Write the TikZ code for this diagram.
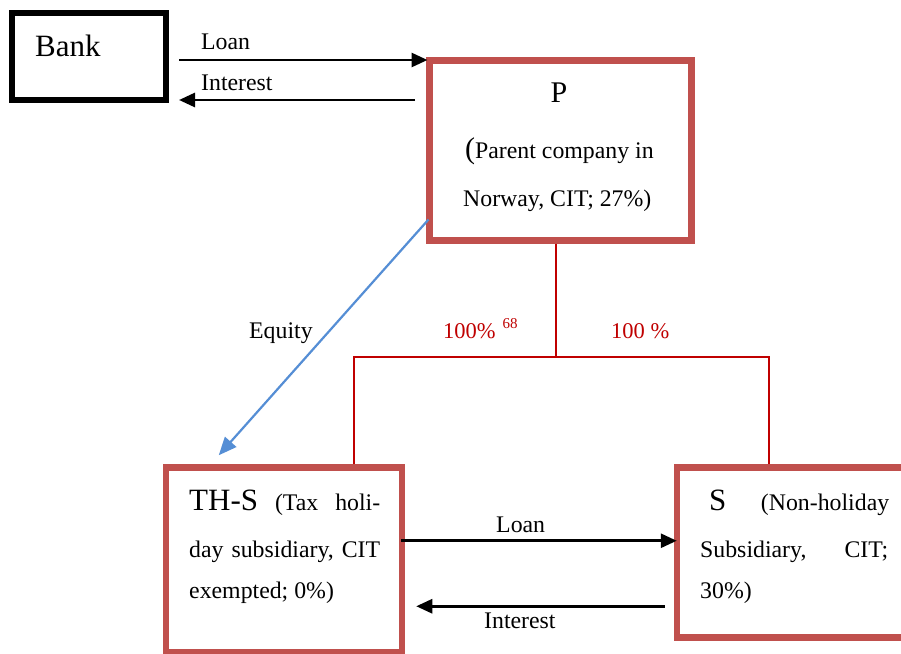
\documentclass[tikz,border=0pt]{standalone}
\usepackage{fontspec}
\setmainfont{Liberation Serif}
\usetikzlibrary{arrows.meta,calc}
\definecolor{boxred}{HTML}{C0504D}
\definecolor{darkred}{HTML}{C00000}
\definecolor{eqblue}{HTML}{558ED5}
\newcommand{\bigf}{\fontsize{31}{36}\selectfont}
\newcommand{\pf}{\fontsize{30}{36}\selectfont}
\newcommand{\smf}{\fontsize{23.8}{28}\selectfont}
\newcommand{\redf}{\fontsize{22.5}{27}\selectfont}
\begin{document}
\begin{tikzpicture}[x=1pt,y=-1pt,
  entity/.style={draw=boxred, line width=6.5pt, rectangle, inner sep=0pt},
  bankbox/.style={draw=black, line width=6pt, rectangle, inner sep=0pt},
  lbl/.style={inner sep=0pt, anchor=base west, font=\smf},
  flow/.style={line width=2.8pt, -{Triangle[length=16pt,width=14pt]}},
  eqarrow/.style={draw=eqblue, line width=2.2pt, -{Triangle[length=18pt,width=15pt]}},
  tree/.style={draw=darkred, line width=2pt},
  redlbl/.style={inner sep=0pt, anchor=base west, font=\redf, text=darkred}
]
\clip (0,0) rectangle (901,653);
\fill[white] (0,0) rectangle (901,653);

% boxes
\node[bankbox, minimum width=154pt, minimum height=87pt] (bank) at (89,56.5) {};
\node[entity, line width=7pt, minimum width=262pt, minimum height=179.5pt] (P) at (560,150.25) {};
\node[entity, minimum width=236pt, minimum height=184.5pt] (THS) at (284,559.75) {};
\node[entity, minimum width=243pt, minimum height=170pt] (S) at (798.5,552.5) {};

% texts in boxes
\node[lbl, font=\bigf] (banktxt) at (35,56) {Bank};
\node[inner sep=0pt, anchor=base, font=\pf] (ptitle) at (559,102) {P};
\node[lbl] (pl1) at (465,158) {{\pf(}Parent company in};
\node[lbl] (pl2) at (463,206) {Norway, CIT; 27\%)};

\node[lbl] (thl1) at (189,510) {\hbox to 191pt{{\bigf TH-S}\hfil(Tax\hfil holi-}};
\node[lbl] (thl2) at (189,557) {\hbox to 191pt{day\hfil subsidiary,\hfil CIT}};
\node[lbl] (thl3) at (189,598) {exempted; 0\%)};

\node[lbl] (sl1) at (709,510) {\hbox to 180pt{{\bigf S}\hfil(Non-holiday}};
\node[lbl] (sl2) at (700,557) {\hbox to 188pt{Subsidiary,\hfil CIT;}};
\node[lbl] (sl3) at (700,598) {30\%)};

% bank <-> P
\draw[flow] ($(bank.east)+(10,3.5)$) coordinate (l1s) -- ($(l1s -| P.west)+(2,0)$);
\path ($(bank.east)+(10,43.5)$) coordinate (i1e);
\draw[flow] ($(i1e -| P.west)+(-10.5,0)$) -- (i1e);
\node[lbl] (loan1) at (201,49) {Loan};
\node[lbl] (int1) at (201,90) {Interest};

% TH-S <-> S
\draw[flow] ($(THS.east)+(-4,-19)$) coordinate (l2s) -- ($(l2s -| S.west)+(3,0)$);
\path ($(THS.east)+(11,46.5)$) coordinate (i2e);
\draw[flow] ($(i2e -| S.west)+(-9,0)$) -- (i2e);
\node[lbl] (loan2) at (496,532) {Loan};
\node[lbl] (int2) at (484,628) {Interest};

% equity
\draw[eqarrow] ($(P.south west)+(3,-24)$) -- ($(THS.north west)+(56,-9)$);
\node[lbl] (eqtxt) at (249,338) {Equity};

% ownership tree
\draw[tree] ($(P.south)+(-4,0)$) -- ++(0,113.5) coordinate (hub);
\draw[tree] ($(THS.north)+(70,0)$) |- (hub) -| ($(S.north)+(-29.5,0)$);
\node[redlbl] (own1) at (443,338) {100\%\hspace{7pt}\raisebox{9.5pt}{\fontsize{15}{15}\selectfont 68}};
\node[redlbl] (own2) at (611,338) {100 \%};
\end{tikzpicture}
\end{document}
